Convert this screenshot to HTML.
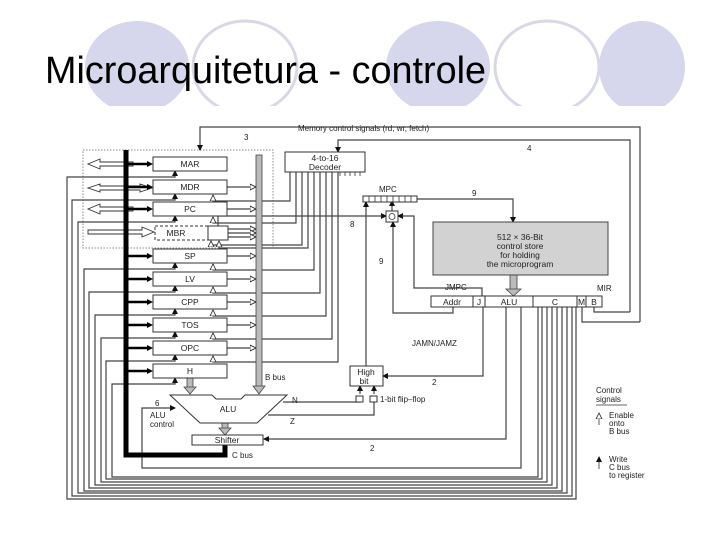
<!DOCTYPE html>
<html><head><meta charset="utf-8"><style>
html,body{margin:0;padding:0;background:#fff;}
svg{display:block;}
text{font-family:"Liberation Sans",sans-serif;fill:#222;}
</style></head><body>
<svg width="720" height="540" viewBox="0 0 720 540" xmlns="http://www.w3.org/2000/svg">
<defs>
<clipPath id="cp"><rect x="0" y="0" width="720" height="106"/></clipPath>
<marker id="af" markerWidth="6" markerHeight="6" refX="5" refY="3" orient="auto" markerUnits="userSpaceOnUse"><path d="M0,0 L6,3 L0,6 z" fill="#111"/></marker>
<marker id="ah" markerWidth="7" markerHeight="7" refX="6" refY="3.5" orient="auto" markerUnits="userSpaceOnUse"><path d="M0,0.5 L6,3.5 L0,6.5 z" fill="#fff" stroke="#222" stroke-width="0.8"/></marker>
</defs>
<g clip-path="url(#cp)">
<ellipse cx="137" cy="67" rx="52" ry="46" fill="#d6d6ec"/>
<ellipse cx="245" cy="67" rx="52" ry="46" fill="none" stroke="#d8d8e6" stroke-width="3"/>
<ellipse cx="438" cy="67" rx="52" ry="46" fill="#d6d6ec"/>
<ellipse cx="547" cy="67" rx="52" ry="46" fill="none" stroke="#d8d8e6" stroke-width="3"/>
<ellipse cx="642" cy="67" rx="43" ry="46" fill="#d6d6ec"/>
</g>
<text x="45" y="83" font-size="38" textLength="441" lengthAdjust="spacingAndGlyphs" style="fill:#000">Microarquitetura - controle</text>

<g stroke="#444" stroke-width="1.2" fill="none">
<rect x="83" y="150" width="190" height="98" stroke="#888" stroke-width="1" stroke-dasharray="1.5,1.5"/>
<path d="M640 322 V127 H200 V150" marker-end="url(#af)"/>
<path d="M582 307 V322 H640"/>
<path d="M630 312 V140 H338 V152" marker-end="url(#af)"/>
<path d="M594 307 V312 H630"/>
<path d="M576 307 V499 H67 V177 H175 V171" marker-end="url(#af)"/>
<path d="M572 307 V496 H72 V200 H175 V194" marker-end="url(#af)"/>
<path d="M567 307 V493 H78 V222 H175 V216" marker-end="url(#af)"/>
<path d="M562 307 V491 H84 V269 H175 V263" marker-end="url(#af)"/>
<path d="M557 307 V488 H89 V292 H175 V286" marker-end="url(#af)"/>
<path d="M552 307 V485 H95 V315 H175 V309" marker-end="url(#af)"/>
<path d="M547 307 V482 H101 V338 H175 V332" marker-end="url(#af)"/>
<path d="M542 307 V479 H106 V361 H175 V355" marker-end="url(#af)"/>
<path d="M538 307 V477 H112 V384 H175 V378" marker-end="url(#af)"/>
<path d="M290 172 V201 H213 V195" marker-end="url(#ah)"/>
<path d="M296 172 V223 H213 V217" marker-end="url(#ah)"/>
<path d="M302 172 V245 H211 V241" marker-end="url(#ah)"/>
<path d="M308 172 V248 H219 V241" marker-end="url(#ah)"/>
<path d="M314 172 V270 H213 V264" marker-end="url(#ah)"/>
<path d="M320 172 V293 H213 V287" marker-end="url(#ah)"/>
<path d="M326 172 V316 H213 V310" marker-end="url(#ah)"/>
<path d="M332 172 V339 H213 V333" marker-end="url(#ah)"/>
<path d="M338 172 V362 H213 V356" marker-end="url(#ah)"/>
<path d="M227 187 H256" marker-end="url(#ah)"/>
<path d="M227 209 H256" marker-end="url(#ah)"/>
<path d="M228 229 H256" marker-end="url(#ah)"/>
<path d="M228 233 H256" marker-end="url(#ah)"/>
<path d="M228 237 H256" marker-end="url(#ah)"/>
<path d="M227 256 H256" marker-end="url(#ah)"/>
<path d="M227 279 H256" marker-end="url(#ah)"/>
<path d="M227 302 H256" marker-end="url(#ah)"/>
<path d="M227 325 H256" marker-end="url(#ah)"/>
<path d="M227 348 H256" marker-end="url(#ah)"/>
<path d="M195 233 H208" marker-end="url(#af)"/>
<path d="M218 226 V216 H386" marker-end="url(#af)"/>
<path d="M417 199 H513 V222" marker-end="url(#af)"/>
<path d="M392 211 V201" marker-end="url(#af)"/>
<path d="M453 307 V313 H393 V222" marker-end="url(#af)"/>
<path d="M482 296 V288 H414 V216 H398" marker-end="url(#af)"/>
<path d="M366 366 V202" marker-end="url(#af)"/>
<path d="M483 307 V376 H383" marker-end="url(#af)"/>
<path d="M506 307 V439 H264" marker-end="url(#af)"/>
<path d="M521 307 V468 H142 V408 H175" marker-end="url(#af)"/>
<path d="M283 402 H360 V396"/>
<path d="M268 415 H374 V396"/>
<path d="M360 394 V386" marker-end="url(#af)"/>
<path d="M374 394 V386" marker-end="url(#af)"/>
</g>

<g fill="#fff" stroke="#333" stroke-width="0.9">
<path d="M133 162 H100 V159 L88 164 L100 169 V166 H133 z"/>
<path d="M100 184 L88 188 L100 192 V190 H140 V192 L152 188 L140 184 V186 H100 z"/>
<path d="M133 207 H100 V204 L88 209 L100 214 V211 H133 z"/>
<path d="M88 230 H142 V227 L154 232 L142 237 V234 H88 z"/>
</g>

<g stroke="#000" stroke-width="5" fill="none">
<path d="M126 150 V455 H225 V445"/>
</g>
<g stroke="#000" stroke-width="2.5" fill="none">
<path d="M126 164 H148"/><path d="M126 187 H148"/><path d="M126 209 H148"/>
<path d="M126 256 H148"/><path d="M126 279 H148"/><path d="M126 302 H148"/>
<path d="M126 325 H148"/><path d="M126 348 H148"/><path d="M126 371 H148"/>
</g>
<g fill="#000">
<path d="M147 161 L153 164 L147 167 z"/><path d="M147 184 L153 187 L147 190 z"/><path d="M147 206 L153 209 L147 212 z"/>
<path d="M147 253 L153 256 L147 259 z"/><path d="M147 276 L153 279 L147 282 z"/><path d="M147 299 L153 302 L147 305 z"/>
<path d="M147 322 L153 325 L147 328 z"/><path d="M147 345 L153 348 L147 351 z"/><path d="M147 368 L153 371 L147 374 z"/>
</g>

<rect x="256" y="155" width="6" height="232" fill="#bbb" stroke="#444" stroke-width="0.8"/>
<path d="M253 386 L265 386 L259 394 z" fill="#bbb" stroke="#444" stroke-width="0.8"/>
<rect x="187" y="378" width="6" height="10" fill="#bbb" stroke="#444" stroke-width="0.8"/>
<path d="M184 387 L196 387 L190 394 z" fill="#bbb" stroke="#444" stroke-width="0.8"/>
<rect x="222" y="423" width="6" height="6" fill="#bbb" stroke="#444" stroke-width="0.8"/>
<path d="M219 428 L231 428 L225 435 z" fill="#bbb" stroke="#444" stroke-width="0.8"/>
<rect x="510" y="275" width="7" height="15" fill="#bbb" stroke="#444" stroke-width="0.8"/>
<path d="M506 289 L521 289 L513.5 296 z" fill="#bbb" stroke="#444" stroke-width="0.8"/>

<g fill="#fff" stroke="#333" stroke-width="1">
<rect x="153" y="157" width="74" height="14"/>
<rect x="153" y="180" width="74" height="14"/>
<rect x="153" y="202" width="74" height="14"/>
<rect x="155" y="226" width="53" height="14" stroke-dasharray="3,2"/>
<rect x="208" y="226" width="20" height="14"/>
<rect x="153" y="249" width="74" height="14"/>
<rect x="153" y="272" width="74" height="14"/>
<rect x="153" y="295" width="74" height="14"/>
<rect x="153" y="318" width="74" height="14"/>
<rect x="153" y="341" width="74" height="14"/>
<rect x="153" y="364" width="74" height="14"/>
<rect x="285" y="152" width="80" height="20"/>
<rect x="363" y="196" width="54" height="6"/>
<rect x="386" y="211" width="12" height="11"/>
<rect x="350" y="366" width="33" height="20"/>
<rect x="356" y="396" width="7" height="6"/>
<rect x="370" y="396" width="7" height="6"/>
<rect x="192" y="435" width="71" height="10"/>
<rect x="431" y="296" width="42" height="11"/>
<rect x="473" y="296" width="12" height="11"/>
<rect x="485" y="296" width="48" height="11"/>
<rect x="533" y="296" width="44" height="11"/>
<rect x="577" y="296" width="9" height="11"/>
<rect x="586" y="296" width="16" height="11"/>
<path d="M170 395 H212 L216 399 H241 L245 395 H287 L257 423 H200 z"/>
</g>
<rect x="433" y="222" width="175" height="53" fill="#d2d2d2" stroke="#444" stroke-width="1"/>
<g stroke="#333" stroke-width="0.8">
<path d="M369 196 V202 M375 196 V202 M381 196 V202 M387 196 V202 M393 196 V202 M399 196 V202 M405 196 V202 M411 196 V202"/>
<path d="M340 172 V176 M345 172 V176 M350 172 V176 M355 172 V176 M360 172 V176"/>
</g>
<circle cx="392" cy="216.5" r="3" fill="none" stroke="#333" stroke-width="0.8"/>

<g font-size="8.5" text-anchor="middle">
<text x="190" y="167">MAR</text>
<text x="190" y="190">MDR</text>
<text x="190" y="212">PC</text>
<text x="176" y="236">MBR</text>
<text x="190" y="259">SP</text>
<text x="190" y="282">LV</text>
<text x="190" y="305">CPP</text>
<text x="190" y="328">TOS</text>
<text x="190" y="351">OPC</text>
<text x="190" y="374">H</text>
<text x="325" y="161">4-to-16</text>
<text x="325" y="170">Decoder</text>
<text x="228" y="412">ALU</text>
<text x="227" y="443">Shifter</text>
<text x="520" y="240">512 × 36-Bit</text>
<text x="520" y="249">control store</text>
<text x="520" y="258">for holding</text>
<text x="520" y="267">the microprogram</text>
<text x="452" y="305">Addr</text>
<text x="479" y="305">J</text>
<text x="509" y="305">ALU</text>
<text x="555" y="305">C</text>
<text x="581.5" y="305">M</text>
<text x="594" y="305">B</text>
<text x="366" y="375">High</text>
<text x="364" y="384">bit</text>
</g>
<g font-size="8">
<text x="298" y="131">Memory control signals (rd, wr, fetch)</text>
<text x="244" y="140">3</text>
<text x="527" y="151">4</text>
<text x="379" y="192">MPC</text>
<text x="472" y="196">9</text>
<text x="350" y="227">8</text>
<text x="379" y="264">9</text>
<text x="445" y="290">JMPC</text>
<text x="597" y="291">MIR</text>
<text x="412" y="346">JAMN/JAMZ</text>
<text x="265" y="380">B bus</text>
<text x="432" y="385">2</text>
<text x="380" y="402">1-bit flip–flop</text>
<text x="292" y="403">N</text>
<text x="290" y="424">Z</text>
<text x="155" y="406">6</text>
<text x="150" y="418">ALU</text>
<text x="150" y="427">control</text>
<text x="232" y="458">C bus</text>
<text x="370" y="451">2</text>
<text x="596" y="393">Control</text>
<text x="596" y="402">signals</text>
<text x="609" y="418">Enable</text>
<text x="609" y="426">onto</text>
<text x="609" y="434">B bus</text>
<text x="609" y="462">Write</text>
<text x="609" y="470">C bus</text>
<text x="609" y="478">to register</text>
</g>
<path d="M596 405 H627" stroke="#333" stroke-width="0.8"/>
<path d="M599 425 V413" stroke="#333" stroke-width="0.8" fill="none" marker-end="url(#ah)"/>
<path d="M599 469 V457" stroke="#333" stroke-width="0.8" fill="none" marker-end="url(#af)"/>
</svg>
</body></html>
